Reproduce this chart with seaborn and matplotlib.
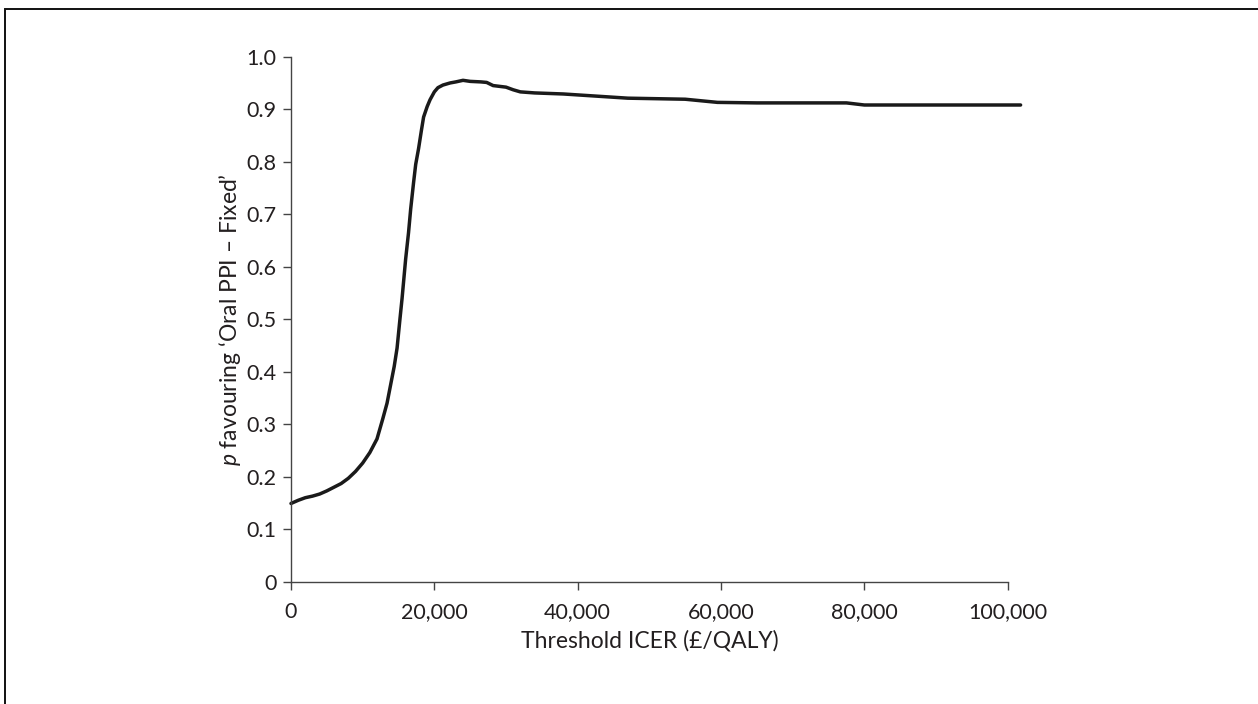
import matplotlib
matplotlib.use("Agg")
import matplotlib.pyplot as plt
import matplotlib.patches as mpatches
from matplotlib.ticker import FuncFormatter
import seaborn as sns
import pandas as pd

# ---- data ----
threshold = [0, 1000, 2000, 3000, 4000, 5000, 6000, 7000, 8000, 9000, 10000,
             11000, 12000, 12800, 13400, 13900, 14400, 14800, 15200, 15500,
             15700, 16000, 16400, 16700, 17100, 17400, 17800, 18200, 18500,
             19000, 19400, 20000, 20500, 21200, 22200, 23000, 24000, 25000,
             26500, 27300, 28200, 30000, 31000, 32000, 34000, 38000, 42500,
             47000, 55000, 59500, 65000, 74000, 77500, 80000, 101800]
prob = [0.149, 0.155, 0.160, 0.163, 0.167, 0.173, 0.180, 0.187, 0.197, 0.210,
        0.226, 0.246, 0.272, 0.310, 0.340, 0.375, 0.410, 0.445, 0.500, 0.540,
        0.570, 0.615, 0.665, 0.710, 0.760, 0.795, 0.825, 0.860, 0.885, 0.905,
        0.918, 0.933, 0.941, 0.946, 0.950, 0.952, 0.955, 0.953, 0.952, 0.951,
        0.945, 0.942, 0.937, 0.933, 0.931, 0.929, 0.925, 0.921, 0.919, 0.913,
        0.912, 0.912, 0.912, 0.908, 0.908]
x_ticks = [0, 20000, 40000, 60000, 80000, 100000]
y_ticks = [0, 0.1, 0.2, 0.3, 0.4, 0.5, 0.6, 0.7, 0.8, 0.9, 1.0]
x_label = "Threshold ICER (£/QALY)"
y_label = r"$\it{p}$ favouring ‘Oral PPI – Fixed’"

df = pd.DataFrame({"threshold": threshold, "prob": prob})

sns.set_theme(style="ticks")
plt.rcParams["font.family"] = ["Lato", "DejaVu Sans"]
plt.rcParams["mathtext.fontset"] = "custom"
plt.rcParams["mathtext.it"] = "Lato:italic"
plt.rcParams["mathtext.rm"] = "Lato"

W, H = 1258, 704
fig = plt.figure(figsize=(W / 100, H / 100), dpi=100)
ax = fig.add_axes([291 / W, 1 - 581.7 / H, 716.7 / W, 525 / H])

sns.lineplot(data=df, x="threshold", y="prob", ax=ax, color="#1a1a1a",
             linewidth=2.5, clip_on=False)

ax.set_xlim(0, 100000)
ax.set_ylim(0, 1.0)
ax.set_xticks(x_ticks)
ax.set_yticks(y_ticks)
ax.xaxis.set_major_formatter(FuncFormatter(lambda v, p: f"{int(v):,}"))
ax.yaxis.set_major_formatter(FuncFormatter(lambda v, p: "0" if v == 0 else f"{v:.1f}"))

txt_color = "#231f20"
ax.tick_params(axis="both", direction="out", length=5.5, width=1.0,
               color="#444444", labelcolor=txt_color, labelsize=15.5)
ax.tick_params(axis="y", pad=5)
ax.tick_params(axis="x", pad=9)
for s in ["top", "right"]:
    ax.spines[s].set_visible(False)
for s in ["left", "bottom"]:
    ax.spines[s].set_color("#444444")
    ax.spines[s].set_linewidth(1.0)

ax.set_xlabel(x_label, fontsize=16.5, color=txt_color)
ax.set_ylabel(y_label, fontsize=16.5, color=txt_color)
ax.xaxis.set_label_coords(0.5, -0.112)
ax.xaxis.label.set_va("center")
ax.yaxis.set_label_coords(-0.0851, 0.5)
ax.yaxis.label.set_va("center")

# outer frame of the figure (only top & left edges visible in the reference)
frame = mpatches.Rectangle((5 / W, -0.2), 1.2, 1 - 9 / H + 0.2,
                           transform=fig.transFigure, fill=False,
                           edgecolor="#111111", linewidth=1.4, clip_on=False)
fig.patches.append(frame)

fig.savefig("out.png", dpi=100)
